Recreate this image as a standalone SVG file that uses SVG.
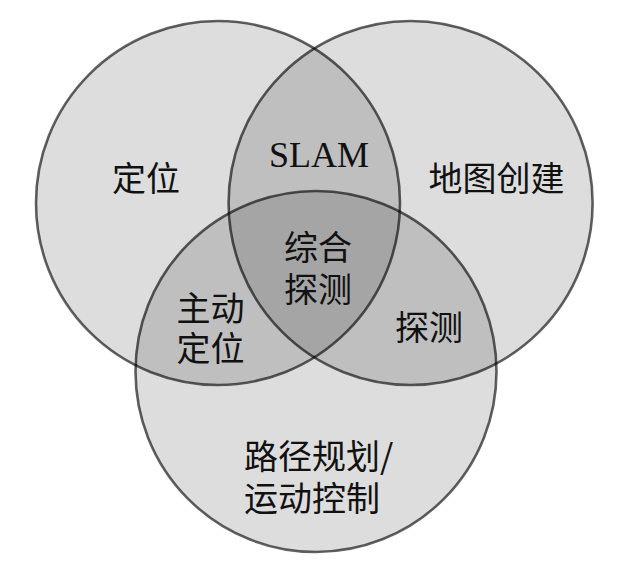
<svg xmlns="http://www.w3.org/2000/svg" width="621" height="569" viewBox="0 0 621 569">
<style>
.fill{fill:#000;fill-opacity:0.135;stroke:none}
.ring{fill:none;stroke:#000;stroke-opacity:0.62;stroke-width:2.6}
.cjk{font-family:"Noto Sans CJK SC","Noto Sans CJK JP",sans-serif;font-size:34px;fill:#111}
.lat{font-family:"Liberation Serif",serif;font-size:36px;fill:#111}
</style>
<rect width="621" height="569" fill="#fff"/>
<g id="circles">
<g id="set-localization"><circle class="fill" cx="218" cy="203" r="182"/></g>
<g id="set-mapping"><circle class="fill" cx="410.6" cy="203" r="182"/></g>
<g id="set-planning"><circle class="fill" cx="316" cy="371.5" r="180.5"/></g>
</g>
<g id="outlines">
<circle class="ring" cx="218" cy="203" r="182"/>
<circle class="ring" cx="410.6" cy="203" r="182"/>
<circle class="ring" cx="316" cy="371.5" r="180.5"/>
</g>
<g id="connectors"></g>
<g id="label-localization"><text class="cjk" x="146" y="191" text-anchor="middle">定位</text></g>
<g id="label-slam"><text class="lat" x="319" y="167" text-anchor="middle">SLAM</text></g>
<g id="label-mapping"><text class="cjk" x="496.5" y="191" text-anchor="middle">地图创建</text></g>
<g id="label-integrated"><text class="cjk" text-anchor="middle"><tspan x="318" y="260">综合</tspan><tspan x="318" y="302">探测</tspan></text></g>
<g id="label-active"><text class="cjk" text-anchor="middle"><tspan x="210.5" y="321">主动</tspan><tspan x="210.5" y="361">定位</tspan></text></g>
<g id="label-exploration"><text class="cjk" x="429" y="340" text-anchor="middle">探测</text></g>
<g id="label-planning"><text class="cjk"><tspan x="244" y="469">路径规划/</tspan><tspan x="244" y="511">运动控制</tspan></text></g>
</svg>
